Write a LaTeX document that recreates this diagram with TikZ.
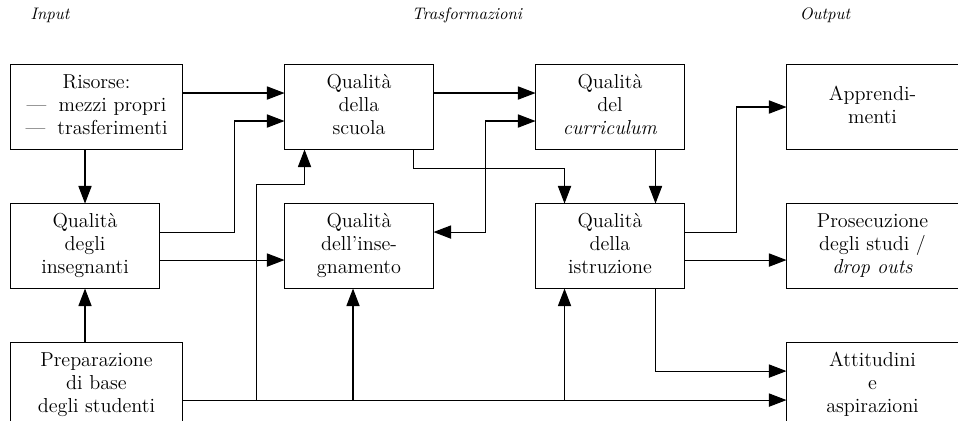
\documentclass[tikz,border=0pt]{standalone}
\usepackage{fontspec}
\usetikzlibrary{matrix,arrows.meta}

\newcommand{\stk}[1]{\begin{tabular}{@{}c@{}}#1\end{tabular}}

\tikzset{
  box/.style={draw, anchor=center, inner sep=2pt,
    minimum width=2.98cm, minimum height=1.7cm,
    font=\fontsize{11.5}{13.2}\selectfont},
  head/.style={font=\fontsize{9.5}{11}\selectfont\itshape},
  arr/.style={-{Triangle[length=10pt,width=7.5pt]}},
  arrs/.style={{Triangle[length=10pt,width=7.5pt]}-{Triangle[length=10pt,width=7.5pt]}}
}

\begin{document}
\begin{tikzpicture}[x=0.02cm, y=0.02cm, line width=0.6pt]
  \useasboundingbox (0,0) rectangle (958,-420);
  \node[head] (in) at (50,-15) {Input};
  \node[head] (tr) at (467,-15) {Trasformazioni};
  \node[head] (out) at (825,-15) {Output};
  \matrix (m) [matrix of nodes, anchor=north west, inner sep=0pt, outer sep=0pt,
    column sep=2.02cm, row sep=1.06cm, nodes={box},
    column 1/.style={nodes={anchor=west}},
    row 1 column 1/.style={nodes={minimum width=3.44cm}},
    row 3 column 1/.style={nodes={minimum width=3.44cm}},
    column 4/.style={nodes={minimum width=3.44cm}}] at (10,-64) {
    \stk{Risorse:\\---\hspace{0.6em}mezzi propri\\---\hspace{0.6em}trasferimenti}
      & \stk{Qualità\\della\\scuola}
      & \stk{Qualità\\del\\\textit{curriculum}}
      & \stk{Apprendi-\\menti} \\
    \stk{Qualità\\degli\\insegnanti}
      & \stk{Qualità\\dell’inse-\\gnamento}
      & \stk{Qualità\\della\\istruzione}
      & \stk{Prosecuzione\\degli studi /\\\textit{drop outs}} \\
    \stk{Preparazione\\di base\\degli studenti}
      &
      &
      & \stk{Attitudini\\e\\aspirazioni} \\
  };
  \coordinate (b) at ([yshift=-.3cm]m-3-1.east);
  \draw[arr] ([yshift=.28cm]m-1-1.east) -- ([yshift=.28cm]m-1-2.west);
  \draw[arr] ([yshift=.28cm]m-2-1.east) -| ([xshift=-1.01cm,yshift=-.28cm]m-1-2.west)
    -- ([yshift=-.28cm]m-1-2.west);
  \draw[arr] (b) -- (b -| m-3-4.west);
  \draw[arr] ([xshift=-.56cm]m-2-2.west |- b) |- ([xshift=.4cm,yshift=-.7cm]m-1-2.south west)
    -- ([xshift=.4cm]m-1-2.south west);
  \draw[arr] (m-2-1.north |- m-1-1.south) -- (m-2-1.north);
  \draw[arr] (m-2-1.south |- m-3-1.north) -- (m-2-1.south);
  \draw[arr] ([yshift=-.28cm]m-2-1.east) -- ([yshift=-.28cm]m-2-2.west);
  \draw[arr] ([xshift=-.12cm]m-2-2.south |- b) -- ([xshift=-.12cm]m-2-2.south);
  \draw[arr] ([xshift=.58cm]m-2-3.south west |- b) -- ([xshift=.58cm]m-2-3.south west);
  \draw[arr] ([yshift=.28cm]m-1-2.east) -- ([yshift=.28cm]m-1-3.west);
  \draw[arr] ([xshift=-.4cm]m-1-2.south east) -- ++(0,-19) -| ([xshift=.58cm]m-2-3.north west);
  \draw[arrs] ([yshift=.28cm]m-2-2.east) -| ([xshift=-1.01cm,yshift=-.28cm]m-1-3.west)
    -- ([yshift=-.28cm]m-1-3.west);
  \draw[arr] ([xshift=-.58cm]m-1-3.south east) -- ([xshift=-.58cm]m-2-3.north east);
  \draw[arr] ([yshift=.28cm]m-2-3.east) -| ([xshift=-1.01cm]m-1-4.west) -- (m-1-4.west);
  \draw[arr] ([yshift=-.28cm]m-2-3.east) -- ([yshift=-.28cm]m-2-4.west);
  \draw[arr] ([xshift=-.58cm]m-2-3.south east) |- ([yshift=.28cm]m-3-4.west);
\end{tikzpicture}
\end{document}
